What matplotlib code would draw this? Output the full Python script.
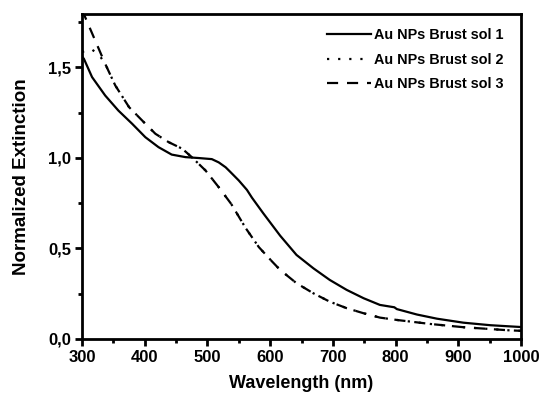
import numpy as np
import matplotlib.pyplot as plt
from matplotlib.ticker import MultipleLocator

plt.rcParams['font.family'] = ['Liberation Sans', 'DejaVu Sans']
plt.rcParams['font.weight'] = 'bold'

# Au NPs Brust sol 1
wl1 = [300, 303, 316, 337, 358, 380, 401, 422, 443, 465, 486, 507, 518, 529,
       536, 550, 563, 571, 589, 616, 642, 669, 695, 722, 749, 775, 798, 802,
       834, 866, 908, 951, 980, 1000]
ext1 = [1.56, 1.547, 1.446, 1.344, 1.261, 1.188, 1.114, 1.059, 1.018, 1.004,
        0.999, 0.993, 0.975, 0.948, 0.924, 0.875, 0.823, 0.78, 0.694, 0.57,
        0.464, 0.39, 0.326, 0.271, 0.225, 0.188, 0.175, 0.165, 0.135, 0.112,
        0.09, 0.076, 0.07, 0.066]

# Au NPs Brust sol 2
wl2 = [300, 306, 315, 327, 337, 353, 375, 396, 417, 438, 460, 475, 497, 518,
       538, 561, 582, 603, 616, 642, 669, 695, 722, 749, 775, 802, 855, 908,
       980, 1000]
ext2 = [1.585, 1.59, 1.6, 1.57, 1.519, 1.40, 1.28, 1.206, 1.133, 1.087, 1.05,
        1.004, 0.93, 0.838, 0.745, 0.612, 0.507, 0.428, 0.381, 0.308, 0.252,
        0.206, 0.17, 0.142, 0.118, 0.105, 0.083, 0.065, 0.048, 0.045]

# Au NPs Brust sol 3
wl3 = [300, 305, 321, 337, 353, 375, 396, 417, 438, 460, 475, 497, 518, 538,
       561, 582, 603, 616, 642, 669, 695, 722, 749, 775, 802, 855, 908, 980,
       1000]
ext3 = [1.82, 1.777, 1.648, 1.519, 1.40, 1.28, 1.206, 1.133, 1.087, 1.05,
        1.004, 0.93, 0.838, 0.745, 0.612, 0.507, 0.428, 0.381, 0.308, 0.252,
        0.206, 0.17, 0.142, 0.118, 0.105, 0.083, 0.065, 0.048, 0.045]

fig = plt.figure(figsize=(5.42, 3.96), dpi=100)
ax = fig.add_axes([0.1513, 0.144, 0.81, 0.821])

ax.plot(wl1, ext1, color='black', lw=1.6, ls='-', label='Au NPs Brust sol 1')
ax.plot(wl2, ext2, color='black', lw=1.6, ls=(0, (1, 4)), label='Au NPs Brust sol 2')
ax.plot(wl3, ext3, color='black', lw=1.6, ls=(0, (5, 4)), label='Au NPs Brust sol 3')

ax.set_xlim(300, 1000)
ax.set_ylim(0, 1.795)
ax.xaxis.set_major_locator(MultipleLocator(100))
ax.xaxis.set_minor_locator(MultipleLocator(50))
ax.yaxis.set_major_locator(MultipleLocator(0.5))
ax.yaxis.set_minor_locator(MultipleLocator(0.25))
ax.yaxis.set_major_formatter(lambda v, p: f'{v:.1f}'.replace('.', ','))

for s in ax.spines.values():
    s.set_linewidth(2)
ax.tick_params(which='major', direction='out', length=5, width=2, labelsize=12, pad=3)
ax.tick_params(which='minor', direction='out', length=3, width=2)

ax.set_xlabel('Wavelength (nm)', fontsize=13, fontweight='bold', labelpad=7)
ax.set_ylabel('Normalized Extinction', fontsize=13.5, fontweight='bold', labelpad=13)

ax.legend(loc='upper right', bbox_to_anchor=(0.959, 0.956), frameon=False,
          fontsize=10.4, handlelength=3.0, handletextpad=0.2, labelspacing=0.72,
          borderpad=0, borderaxespad=0)

fig.savefig('out.png', dpi=100)
